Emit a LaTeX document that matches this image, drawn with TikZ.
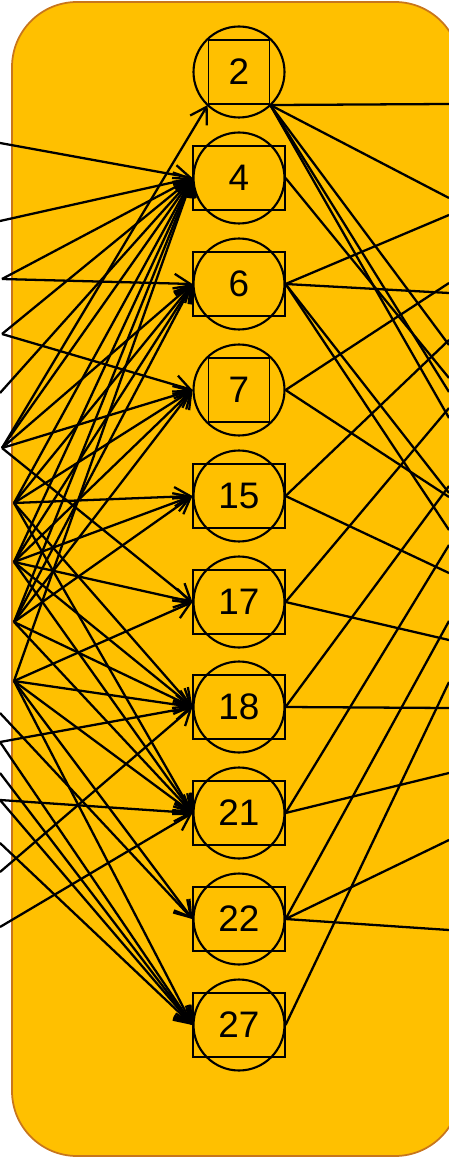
\documentclass[tikz,border=0pt]{standalone}
\usepackage{fontspec}
\setsansfont{Liberation Sans}
\usepackage{xcolor}
\usepackage{tikz}
\usetikzlibrary{arrows.meta}

\definecolor{panelfill}{RGB}{255,192,0}
\definecolor{paneledge}{RGB}{200,118,28}

\begin{document}
\begin{tikzpicture}[x=0.02cm, y=-0.02cm,
            panel/.style={draw=paneledge, fill=panelfill, line width=1pt, rounded corners=1.3cm},
            vtx/.style={circle, draw, line width=1.2pt, fill=panelfill, minimum size=1.82cm,
            inner sep=0pt, font=\sffamily\fontsize{21}{25}\selectfont},
            wide_box/.style={rectangle, draw, line width=0.9pt, minimum width=1.83cm,
            minimum height=1.29cm, inner sep=0pt},
            narrow_box/.style={wide_box, minimum width=1.22cm},
            feed/.style={-{Straight Barb[length=9pt, width=11pt]}, line width=1.3pt},
            exit_line/.style={line width=1.3pt}
        ]

            \useasboundingbox (0,0) rectangle (449,1158);
            \clip (0,0) rectangle (449,1158);

            % Container
            \draw[panel] (12,2) rectangle (460,1156);

            % Vertices (middle column)
            \foreach \lab/\y in {2/72, 4/178, 6/284, 7/390, 15/496, 17/602, 18/707, 21/813, 22/919, 27/1025} {
                \node[vtx] (n\lab) at (239,\y) {\lab};
            }
            \foreach \lab in {4,6,15,17,18,21,22,27}
                \node[wide_box] (b\lab) at (n\lab) {};
            \foreach \lab in {2,7}
                \node[narrow_box] (b\lab) at (n\lab) {};

            % Sources on the left (off the crop)
            \foreach \x/\y in {0/143, 0/221, 2/279, 2/334, 0/393, 2/448, 14/503, 14/562, 14/622,
                14/681, 0/713, 0/742, 0/773, 0/800, 0/843, 0/872, 0/927}
                \coordinate (l\y) at (\x,\y);

            % Exits on the right
            \foreach \y in {104,198,215,283,293,340,345,378,392,408,418,486,493,497,530,545,
                573,621,640,682,708,773,840,930}
                \coordinate (r\y) at (449,\y);

            % Incoming edges
            \draw[feed] (l448) -- (b2.south west);
            \foreach \s in {143,221,279,334,393,448,503,562,622,681}
                \draw[feed] (l\s) -- (n4.west);
            \foreach \s in {279,448,503,562,622}
                \draw[feed] (l\s) -- (n6.west);
            \foreach \s in {334,448,503,562,622}
                \draw[feed] (l\s) -- (n7.west);
            \foreach \s in {503,562,622}
                \draw[feed] (l\s) -- (n15.west);
            \foreach \s in {448,562,681}
                \draw[feed] (l\s) -- (n17.west);
            \foreach \s in {503,562,622,681,742,872}
                \draw[feed] (l\s) -- (n18.west);
            \foreach \s in {503,562,622,681,800,927}
                \draw[feed] (l\s) -- (n21.west);
            \foreach \s in {681,713}
                \draw[feed] (l\s) -- (n22.west);
            \foreach \s in {681,742,773,800,843}
                \draw[feed] (l\s) -- (n27.west);

            % Outgoing edges
            \foreach \t in {104,198,345,392,418}
                \draw[exit_line] (b2.south east) -- (r\t);
            \draw[exit_line] (n4.east) -- (r378);
            \foreach \t in {215,293,493,530}
                \draw[exit_line] (n6.east) -- (r\t);
            \foreach \t in {283,497}
                \draw[exit_line] (n7.east) -- (r\t);
            \foreach \t in {340,573}
                \draw[exit_line] (n15.east) -- (r\t);
            \foreach \t in {408,640}
                \draw[exit_line] (n17.east) -- (r\t);
            \foreach \t in {486,708}
                \draw[exit_line] (n18.east) -- (r\t);
            \foreach \t in {545,773}
                \draw[exit_line] (n21.east) -- (r\t);
            \foreach \t in {621,840,930}
                \draw[exit_line] (n22.east) -- (r\t);
            \draw[exit_line] (n27.east) -- (r682);

        \end{tikzpicture}
\end{document}
